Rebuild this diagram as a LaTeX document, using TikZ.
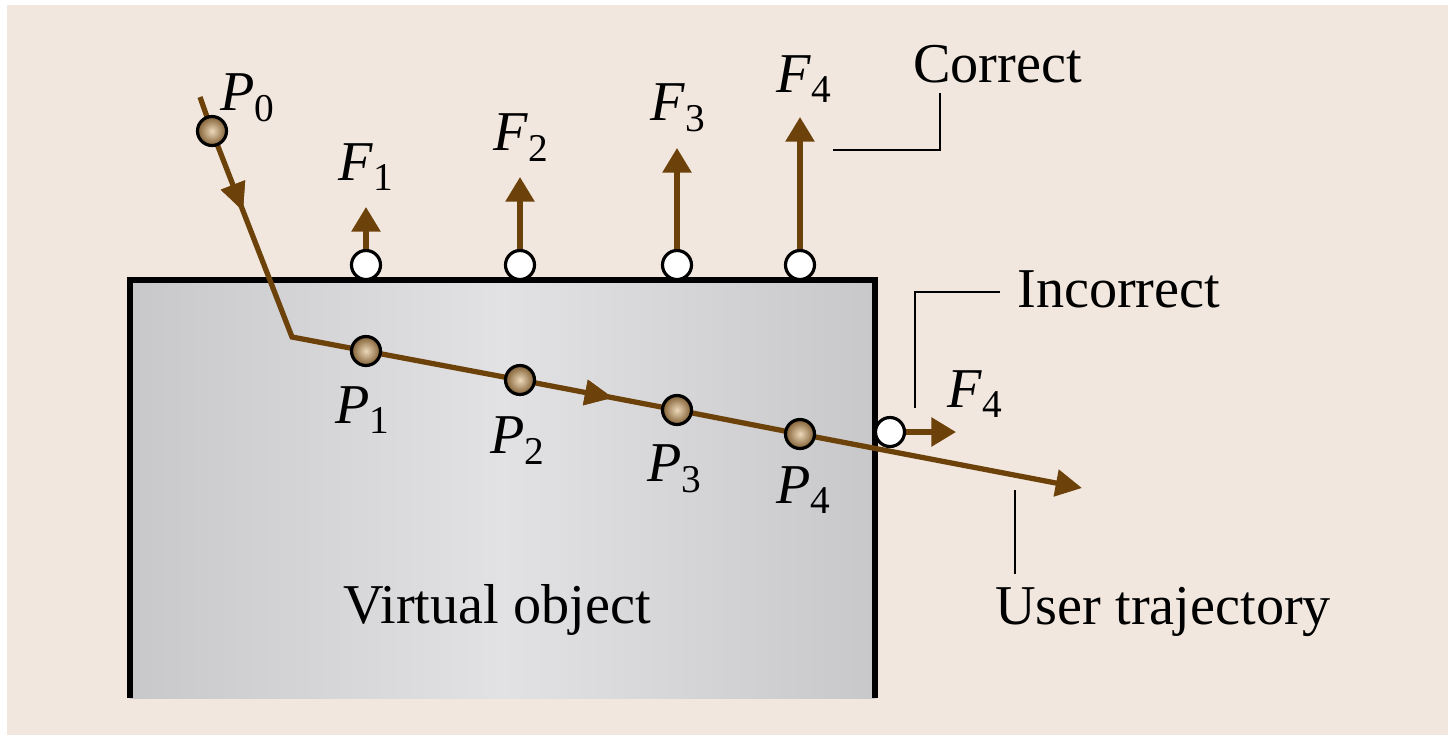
\documentclass[tikz,border=0pt]{standalone}
\usepackage{fontspec}
\setmainfont{Liberation Serif}
\usetikzlibrary{arrows.meta, decorations.markings, positioning}
\definecolor{bgbeige}{RGB}{241,231,222}
\definecolor{trajbrown}{RGB}{108,66,10}
\definecolor{balllight}{RGB}{236,216,186}
\definecolor{balldark}{RGB}{128,94,50}
\definecolor{boxdark}{RGB}{200,200,202}
\definecolor{boxlight}{RGB}{226,226,228}
\tikzset{
  traj/.style={color=trajbrown, line width=3pt},
  force/.style={color=trajbrown, line width=3pt, -{Triangle[length=14pt, width=16pt]}},
  ball/.style={circle, draw=black, line width=1.8pt, inner sep=0pt, minimum size=16.5pt, inner color=balllight, outer color=balldark},
  contact/.style={circle, draw=black, line width=1.8pt, fill=white, inner sep=0pt, minimum size=16.5pt},
  leader/.style={draw=black, line width=1.1pt},
  lbl/.style={font=\fontsize{32}{38}\selectfont, inner sep=0pt, anchor=base west},
  midarrow/.style={postaction={decorate}, decoration={markings,
    mark=at position #1 with {\arrow{Triangle[length=16pt, width=14pt]}}}}
}

\begin{document}
\begin{tikzpicture}[x=0.02cm, y=-0.02cm]
  \useasboundingbox (0,0) rectangle (1448,735);
  \fill[bgbeige] (7,5) rectangle (1448,735);

  % the virtual object
  \shade[left color=boxdark, right color=boxdark, middle color=boxlight] (130,698) rectangle (875,280);
  \draw[line width=3.3pt] (130,698) -- (130,280) -- (875,280) -- (875,698);
  \node[lbl] (vobj) at (343,623) {Virtual object};

  % user trajectory
  \coordinate (start) at (200,97);
  \coordinate (p0) at (212,131);
  \coordinate (kink) at (292,337);
  \coordinate (p1) at (366,351);
  \coordinate (p2) at (520,380);
  \coordinate (p3) at (677,410);
  \coordinate (p4) at (800,434);
  \coordinate (tip) at (1082,488);
  \draw[traj, -{Triangle[length=15pt, width=15pt]}, midarrow=0.115, midarrow=0.55]
    (start) -- (p0) -- (kink) -- (p1) -- (p2) -- (p3) -- (p4) -- (tip);
  \foreach \i in {0,...,4}
    \node[ball] (P\i) at (p\i) {};

  % proxy points and forces
  \foreach \i/\x/\t in {1/366/207, 2/520/177, 3/677/148, 4/800/117} {
    \node[contact] (c\i) at (\x,265) {};
    \coordinate (f\i) at (\x,\t);
    \draw[force] (c\i) -- (f\i);
  }
  \node[contact] (cw) at (890,432) {};
  \coordinate (fw) at (956,432);
  \draw[force] (cw) -- (fw);

  % labels
  \node[lbl] (lP0) at (220,110) {\textit{P}\textsubscript{0}};
  \node[lbl] (lP1) at (335,423) {\textit{P}\textsubscript{1}};
  \node[lbl] (lP2) at (490,453) {\textit{P}\textsubscript{2}};
  \node[lbl] (lP3) at (647,481) {\textit{P}\textsubscript{3}};
  \node[lbl] (lP4) at (776,503) {\textit{P}\textsubscript{4}};
  \node[lbl] (lF1) at (338,180) {\textit{F}\textsubscript{1}};
  \node[lbl] (lF2) at (493,150) {\textit{F}\textsubscript{2}};
  \node[lbl] (lF3) at (650,120) {\textit{F}\textsubscript{3}};
  \node[lbl] (lF4) at (776,92) {\textit{F}\textsubscript{4}};
  \node[lbl] (lFw) at (947,407) {\textit{F}\textsubscript{4}};

  \node[lbl] (corr) at (913,82) {Correct};
  \node[lbl] (incorr) at (1017,307) {Incorrect};
  \node[lbl] (user) at (995,624) {User trajectory};

  % leaders
  \coordinate (lc1) at (833,150);
  \coordinate (lc2) at (940,93);
  \draw[leader] (lc1) -| (lc2);
  \coordinate (li1) at (915,408);
  \coordinate (li2) at (1000,292);
  \draw[leader] (li1) |- (li2);
  \coordinate (lu1) at (1015,490);
  \coordinate (lu2) at (1015,574);
  \draw[leader] (lu1) -- (lu2);
\end{tikzpicture}
\end{document}
